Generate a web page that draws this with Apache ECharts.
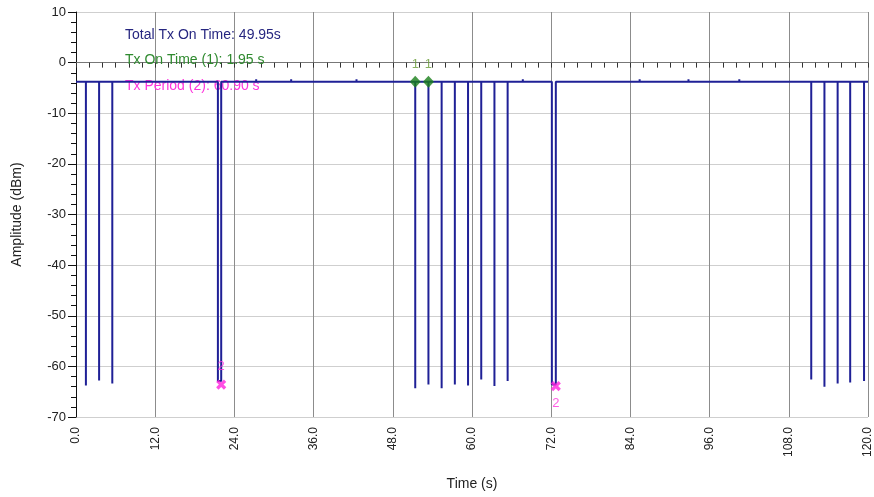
<!DOCTYPE html>
<html lang="en">
<head>
    <meta charset="UTF-8">
    <title>Tx On Time</title>
    <script src="https://cdn.jsdelivr.net/npm/echarts@6/dist/echarts.min.js"></script>
    <style>
        body { margin: 0; background: #fff; }
        #main { width: 874px; height: 497px; }
    </style>
</head>
<body>
<div id="main"></div>
<script>
    // trace values (time in s, amplitude in dBm)
    var baseLevel = -3.8;
    var spikeTimes = [1.5, 3.5, 5.5, 51.4, 53.4, 55.4, 57.4, 59.4, 61.4, 63.4, 65.4, 111.4, 113.4, 115.4, 117.3, 119.4];
    var spikeLows = [-63.8, -62.8, -63.4, -64.3, -63.6, -64.3, -63.6, -63.8, -62.6, -63.9, -62.9, -62.6, -64.0, -63.4, -63.2, -62.9];
    var pulseStarts = [21.5, 72.1];
    var pulseEnds = [22.0, 72.7];
    var pulseLows = [-62.9, -63.6];
    var blipTimes = [27.3, 32.6, 42.5, 67.7, 85.4, 92.8, 100.5];
    var blipLevel = -3.3;

    // markers
    var onTimeMarks = [51.4, 53.4];
    var periodMarkTimes = [22.0, 72.7];
    var periodMarkLevels = [-63.6, -63.9];

    var yTicks = [10, 0, -10, -20, -30, -40, -50, -60, -70];

    // build the trace from the events above
    var events = [];
    for (var i = 0; i < spikeTimes.length; i++) {
        events.push({t: spikeTimes[i], pts: [[spikeTimes[i], baseLevel], [spikeTimes[i], spikeLows[i]], [spikeTimes[i], baseLevel]]});
    }
    for (var i = 0; i < pulseStarts.length; i++) {
        events.push({t: pulseStarts[i], pts: [[pulseStarts[i], baseLevel], [pulseStarts[i], pulseLows[i]], [pulseEnds[i], pulseLows[i]], [pulseEnds[i], baseLevel]]});
    }
    for (var i = 0; i < blipTimes.length; i++) {
        events.push({t: blipTimes[i], pts: [[blipTimes[i], baseLevel], [blipTimes[i], blipLevel], [blipTimes[i], baseLevel]]});
    }
    events.sort(function (a, b) { return a.t - b.t; });
    var trace = [[0, baseLevel]];
    events.forEach(function (e) { trace = trace.concat(e.pts); });
    trace.push([120, baseLevel]);

    var onData = onTimeMarks.map(function (t) { return [t, baseLevel]; });
    var periodData = periodMarkTimes.map(function (t, i) {
        return {
            value: [t, periodMarkLevels[i]],
            label: {position: i === 0 ? 'top' : 'bottom', distance: i === 0 ? 4 : 3}
        };
    });

    var font = 'Liberation Sans, Arial, sans-serif';
    var xSymbol = 'path://M3.5,0H6.5V3.5H10V6.5H6.5V10H3.5V6.5H0V3.5H3.5Z';

    var myChart = echarts.init(document.getElementById('main'));
    var option = {
        animation: false,
        backgroundColor: '#fff',
        grid: {left: 76, right: 5, top: 12, bottom: 80},
        xAxis: {
            type: 'value',
            min: 0, max: 120, interval: 12,
            name: 'Time (s)',
            nameLocation: 'middle',
            nameGap: 60,
            nameTextStyle: {color: '#222', fontFamily: font, fontSize: 14},
            axisLine: {lineStyle: {color: '#777', width: 1}},
            axisTick: {show: true, inside: false, length: 5, lineStyle: {color: '#333'}},
            minorTick: {show: true, splitNumber: 6, length: 5, lineStyle: {color: '#333'}},
            axisLabel: {
                rotate: 90, color: '#222', fontFamily: font, fontSize: 12, margin: 10,
                formatter: function (v) { return v.toFixed(1); }
            },
            splitLine: {show: true, lineStyle: {color: '#8c8c8c', width: 1}}
        },
        yAxis: {
            type: 'value',
            min: -70, max: 10, interval: 10,
            name: 'Amplitude (dBm)',
            nameLocation: 'middle',
            nameGap: 52,
            nameTextStyle: {color: '#222', fontFamily: font, fontSize: 14},
            axisLine: {show: true, lineStyle: {color: '#111', width: 1}},
            axisTick: {show: true, length: 8, lineStyle: {color: '#111'}},
            minorTick: {show: true, splitNumber: 5, length: 5, lineStyle: {color: '#111'}},
            axisLabel: {
                color: '#222', fontFamily: font, fontSize: 13, margin: 10,
                formatter: function (v) { return yTicks.indexOf(v) >= 0 ? String(v) : ''; }
            },
            splitLine: {show: true, lineStyle: {color: '#cfcfcf', width: 1}}
        },
        graphic: [
            {type: 'text', left: 125, top: 28, z: 1, style: {text: 'Total Tx On Time: 49.95s', fill: '#262680', font: '14px ' + font}},
            {type: 'text', left: 125, top: 53, z: 1, style: {text: 'Tx On Time (1): 1.95 s', fill: '#2f8a2f', font: '14px ' + font}},
            {type: 'text', left: 125, top: 79, z: 1, style: {text: 'Tx Period (2): 60.90 s', fill: '#ff33dd', font: '14px ' + font}}
        ],
        series: [
            {
                name: 'trace',
                type: 'line',
                data: trace,
                symbol: 'none',
                z: 3,
                lineStyle: {color: '#1f2096', width: 2},
                silent: true
            },
            {
                name: 'on time',
                type: 'scatter',
                data: onData,
                symbol: 'diamond',
                symbolSize: [11, 12],
                z: 5,
                itemStyle: {color: '#198019'},
                label: {show: true, position: 'top', distance: 5, formatter: '1', color: '#6a9e38', fontFamily: font, fontSize: 13}
            },
            {
                name: 'period',
                type: 'scatter',
                data: periodData,
                symbol: xSymbol,
                symbolRotate: 45,
                symbolSize: 11,
                z: 5,
                itemStyle: {color: '#ff22dd'},
                label: {show: true, formatter: '2', color: '#ff33dd', fontFamily: font, fontSize: 13}
            }
        ]
    };
    myChart.setOption(option);
</script>
</body>
</html>
